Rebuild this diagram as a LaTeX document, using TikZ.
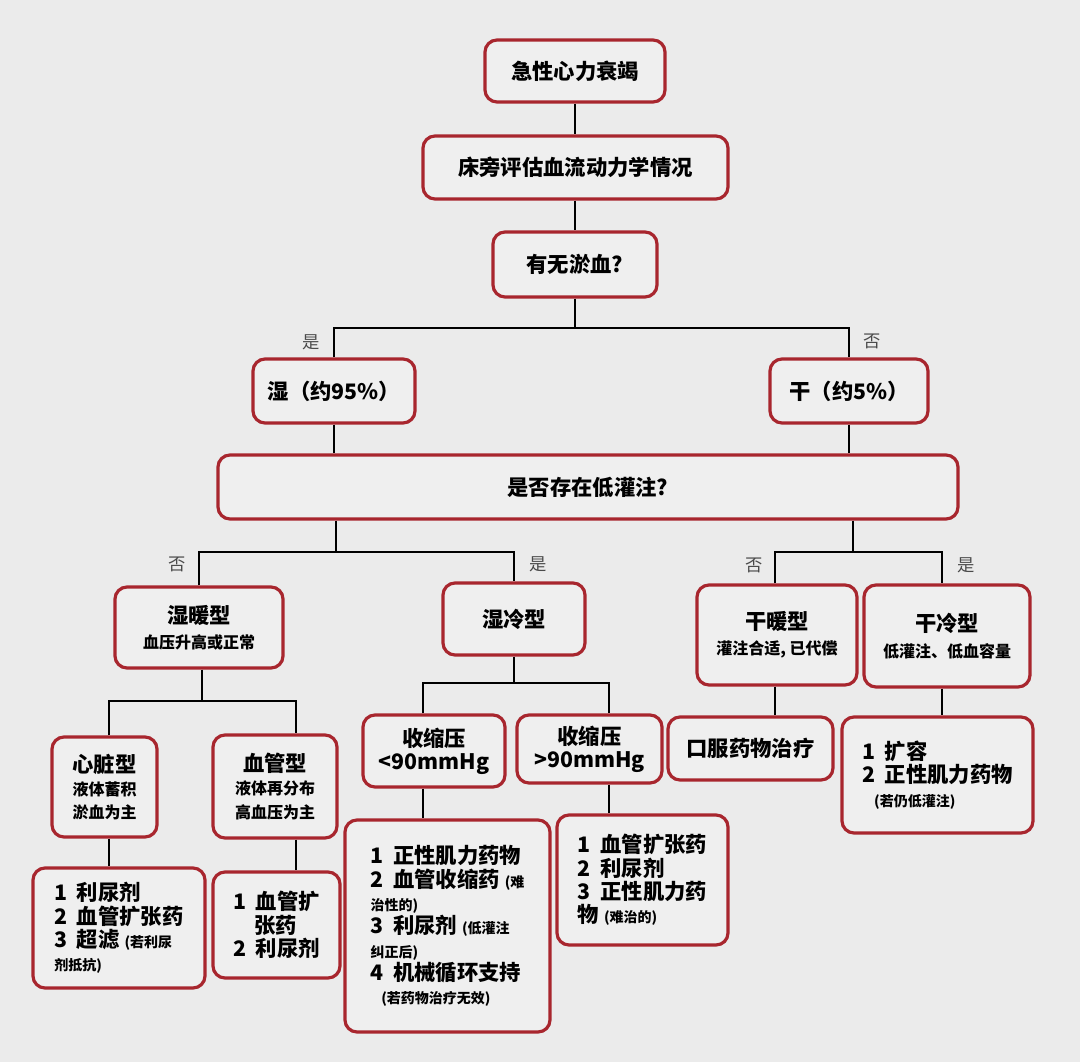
\documentclass[tikz,border=0pt]{standalone}
\usepackage{fontspec}
\setmainfont{Noto Sans CJK SC}
\usetikzlibrary{calc}
\definecolor{bg}{HTML}{EBEBEB}
\definecolor{boxfill}{HTML}{EFEFEF}
\definecolor{bord}{HTML}{A8262E}
\definecolor{lab}{HTML}{4A4A4A}
\newcommand\subt[1]{{\fontsize{12}{14}\selectfont #1}}
\newcommand\smt[1]{{\fontsize{10.5}{12}\selectfont #1}}
\newcommand\gap{\hspace{0.45em}}
\tikzset{
  box/.style={draw=bord, line width=2.4pt, rounded corners=9pt, fill=boxfill, align=center, inner sep=3pt},
  sz/.style 2 args={minimum width=#1*0.75pt, minimum height=#2*0.75pt},
  conn/.style={line width=2pt, draw=black},
  lbl/.style={text=lab, font=\fontsize{13}{15}\selectfont, inner sep=0pt},
  ttl/.style={font=\bfseries\fontsize{16}{19}\selectfont},
  lst/.style={font=\bfseries\fontsize{16}{17.5}\selectfont, align=left},
}
\begin{document}
\begin{tikzpicture}[x=0.75pt, y=-0.75pt]
\fill[bg] (0,0) rectangle (1080,1062);
\useasboundingbox (0,0) rectangle (1080,1062);

% boxes
\node[box, ttl, sz={180}{62}] (n1) at (575,71) {急性心力衰竭};
\node[box, ttl, sz={305}{63}] (n2) at (575.5,167.5) {床旁评估血流动力学情况};
\node[box, ttl, sz={164}{65}] (n3) at (575,264.5) {有无淤血?};
\node[box, ttl, sz={162}{64}] (n4) at (334,391) {湿（约95\%）};
\node[box, ttl, sz={158}{64}] (n5) at (849,391) {干（约5\%）};
\node[box, ttl, sz={740}{64}] (n6) at (588,487) {是否存在低灌注?};
\node[box, ttl, sz={168}{81}] (n7) at (199,627.5) {湿暖型\\\subt{血压升高或正常}};
\node[box, ttl, sz={142}{72}] (n8) at (514,619) {湿冷型};
\node[box, ttl, sz={160}{100}] (n9) at (777,635) {干暖型\\\subt{灌注合适, 已代偿}};
\node[box, ttl, sz={166}{102}] (n10) at (947,636) {干冷型\\\subt{低灌注、低血容量}};
\node[box, ttl, sz={105}{100}, font=\bfseries\fontsize{16}{17.5}\selectfont] (n11) at (104.5,787) {心脏型\\\subt{液体蓄积}\\\subt{淤血为主}};
\node[box, ttl, sz={124}{103}, font=\bfseries\fontsize{16}{17.5}\selectfont] (n12) at (275,786.5) {血管型\\\subt{液体再分布}\\\subt{高血压为主}};
\node[box, lst, sz={172}{120}] (n13) at (119,928) {1\gap 利尿剂\\2\gap 血管扩张药\\3\gap 超滤 \smt{(若利尿}\\\smt{剂抵抗)}};
\node[box, lst, sz={127}{106}] (n14) at (276.5,925) {1\gap 血管扩\\\hspace*{0.55em}\hspace*{0.45em}张药\\2\gap 利尿剂};
\node[box, ttl, sz={142}{72}, font=\bfseries\fontsize{16}{17}\selectfont] (n15) at (434,751) {收缩压\\<90mmHg};
\node[box, ttl, sz={145}{68}, font=\bfseries\fontsize{16}{17}\selectfont] (n16) at (589.5,749) {收缩压\\>90mmHg};
\node[box, lst, sz={205}{212}] (n17) at (447.5,926) {1\gap 正性肌力药物\\2\gap 血管收缩药 \smt{(难}\\\smt{治性的)}\\3\gap 利尿剂 \smt{(低灌注}\\\smt{纠正后)}\\4\gap 机械循环支持\\\hspace*{8pt}\smt{(若药物治疗无效)}};
\node[box, lst, sz={171}{130}] (n18) at (642.5,880) {1\gap 血管扩张药\\2\gap 利尿剂\\3\gap 正性肌力药\\物 \smt{(难治的)}};
\node[box, ttl, sz={165}{63}] (n19) at (750.5,748.5) {口服药物治疗};
\node[box, lst, sz={191}{116}] (n20) at (937.5,775) {1\gap 扩容\\2\gap 正性肌力药物\\\hspace*{9pt}\smt{(若仍低灌注)}};

% helper coordinates
\coordinate (j1) at (575,328);
\coordinate (j2) at (336,552);
\coordinate (j3) at (853,552);
\coordinate (j4) at (202,701);
\coordinate (j5) at (514,683);
\coordinate (x11) at (109,0);
\coordinate (x12) at (296,0);
\coordinate (x15) at (423,0);
\coordinate (x16) at (609,0);
\coordinate (x9) at (775,0);
\coordinate (x10) at (942,0);

% connectors
\draw[conn] (n1.south) -- (n1.south |- n2.north);
\draw[conn] (n2.south -| n3.north) -- (n3.north);
\draw[conn] (n3.south) -- (j1);
\draw[conn] (n4.north) |- (j1) -| (n5.north);
\draw[conn] (n4.south) -- (n4.south |- n6.north);
\draw[conn] (n5.south) -- (n5.south |- n6.north);
\draw[conn] (n6.south -| j2) -- (j2);
\draw[conn] (n7.north) |- (j2) -| (n8.north);
\draw[conn] (n6.south -| j3) -- (j3);
\draw[conn] (n9.north -| x9) |- (j3) -| (n10.north -| x10);
\draw[conn] (n7.south -| j4) -- (j4);
\draw[conn] (n11.north -| x11) |- (j4) -| (n12.north -| x12);
\draw[conn] (n11.south -| x11) -- (n13.north -| x11);
\draw[conn] (n12.south -| x12) -- (n14.north -| x12);
\draw[conn] (n8.south) -- (j5);
\draw[conn] (n15.north -| x15) |- (j5) -| (n16.north -| x16);
\draw[conn] (n15.south -| x15) -- (n17.north -| x15);
\draw[conn] (n16.south -| x16) -- (n18.north -| x16);
\draw[conn] (n9.south -| x9) -- (n19.north -| x9);
\draw[conn] (n10.south -| x10) -- (n20.north -| x10);

% labels
\node[lbl] (l1) at (311,342) {是};
\node[lbl] (l2) at (872,341) {否};
\node[lbl] (l3) at (177,564) {否};
\node[lbl] (l4) at (538,564) {是};
\node[lbl] (l5) at (754,565) {否};
\node[lbl] (l6) at (966,565) {是};
\end{tikzpicture}
\end{document}
